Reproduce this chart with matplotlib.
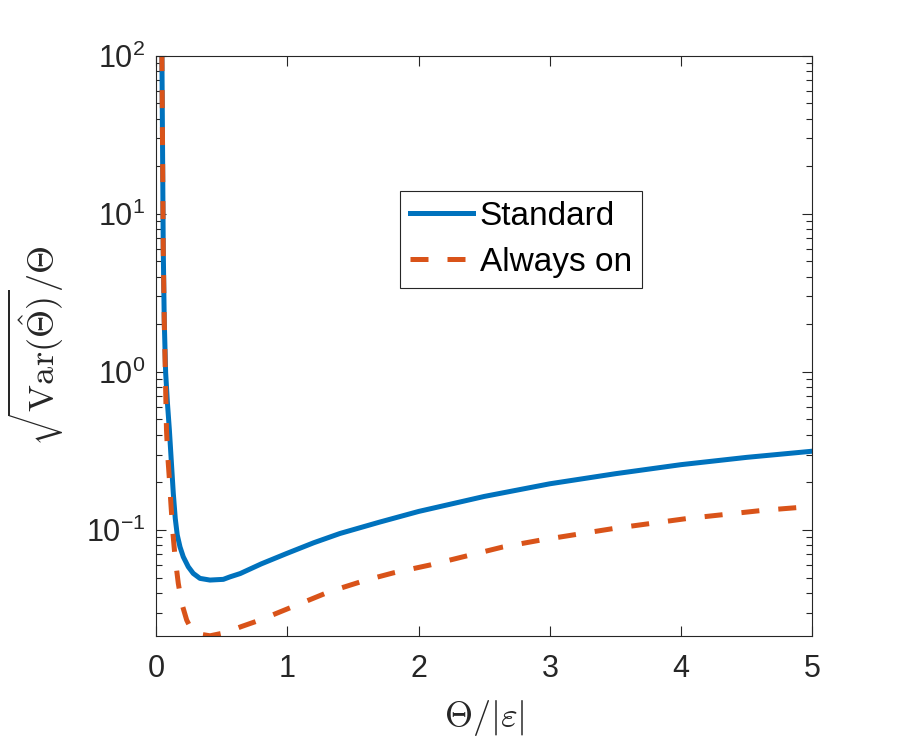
import numpy as np
import matplotlib
matplotlib.use("Agg")
import matplotlib.pyplot as plt

plt.rcParams["font.family"] = ["Liberation Sans", "DejaVu Sans"]
plt.rcParams["mathtext.fontset"] = "cm"
plt.rcParams["axes.unicode_minus"] = False

# values (x = Theta/|eps|)
std_x = [0.043, 0.0533, 0.061, 0.0716, 0.085, 0.100, 0.115, 0.130, 0.145, 0.160,
         0.181, 0.206, 0.244, 0.282, 0.333, 0.409, 0.511, 0.562, 0.64, 0.8,
         0.994, 1.2, 1.4, 1.7, 2.0, 2.5, 3.0, 3.5, 4.0, 4.5, 5.0]
std_y = [104, 6.0, 2.1, 0.99, 0.64, 0.43, 0.27, 0.17, 0.118, 0.093,
         0.0781, 0.0676, 0.0585, 0.0531, 0.0494, 0.0482, 0.0487, 0.0505, 0.053, 0.061,
         0.071, 0.083, 0.095, 0.112, 0.131, 0.163, 0.196, 0.227, 0.259, 0.288, 0.315]

aon_x = [0.043, 0.0533, 0.061, 0.069, 0.078, 0.087, 0.099, 0.112, 0.125, 0.143,
         0.168, 0.194, 0.232, 0.27, 0.32, 0.41, 0.525, 0.65, 0.79, 1.06,
         1.32, 1.60, 1.806, 2.085, 2.64, 2.92, 3.48, 4.04, 4.62, 5.0]
aon_y = [104, 6.0, 2.1, 1.0, 0.43, 0.30, 0.216, 0.145, 0.100, 0.0676,
         0.0459, 0.0344, 0.0269, 0.0233, 0.0220, 0.0214, 0.0224, 0.0245, 0.0269, 0.0332,
         0.0407, 0.0482, 0.0535, 0.060, 0.078, 0.086, 0.102, 0.118, 0.133, 0.141]

labels = ["Standard", "Always on"]
x_ticks = [0, 1, 2, 3, 4, 5]

fig = plt.figure(figsize=(8.98, 7.44), dpi=100)
ax = fig.add_axes([0.174, 0.145, 0.7306, 0.78])

ax.plot(std_x, std_y, color="#0072BD", lw=3.6, label=labels[0])
ax.plot(aon_x, aon_y, color="#D95319", lw=3.6, dashes=(3.6, 3.8), label=labels[1])

ax.set_yscale("log")
ax.set_xlim(0, 5)
ax.set_ylim(0.0213, 100)
ax.set_xticks(x_ticks)

ax.tick_params(which="both", direction="in", top=True, right=True,
               color="#262626", labelsize=22, labelcolor="#262626")
ax.tick_params(which="major", length=7, width=0.8)
ax.tick_params(which="minor", length=4, width=0.8)
ax.tick_params(axis="x", pad=13)
ax.tick_params(axis="y", pad=8)
for sp in ax.spines.values():
    sp.set_color("#262626")
    sp.set_linewidth(0.8)

ax.set_xlabel(r"$\Theta/|\varepsilon|$", fontsize=26, color="#262626", labelpad=10)
ax.set_ylabel(r"$\sqrt{\mathrm{Var}(\hat{\Theta})}/\Theta$", fontsize=26, color="#262626", labelpad=14)

leg = ax.legend(loc="upper left", bbox_to_anchor=(0.371, 0.767), borderaxespad=0,
                fontsize=24, fancybox=False, framealpha=1, edgecolor="#262626",
                handlelength=1.9, handletextpad=0.2, borderpad=0.3, labelspacing=0.45)
leg.get_frame().set_linewidth(0.8)

fig.savefig("out.png", dpi=100)
